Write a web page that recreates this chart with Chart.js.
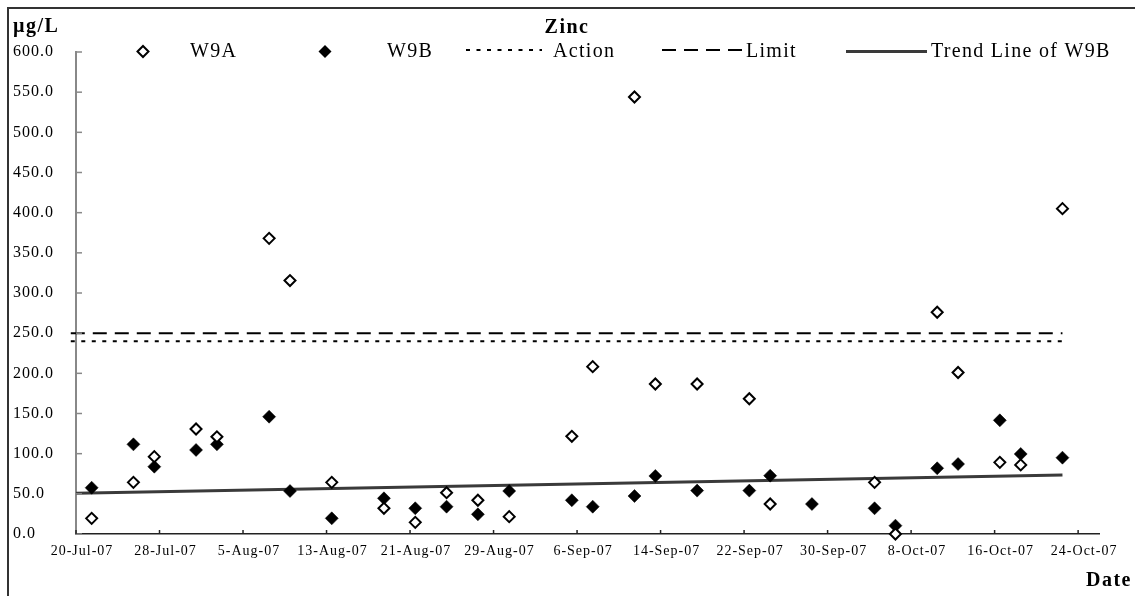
<!DOCTYPE html>
<html>
<head>
<meta charset="utf-8">
<title>Zinc</title>
<script src="https://cdn.jsdelivr.net/npm/chart.js@4.4.0/dist/chart.umd.min.js"></script>
<style>
    html, body { margin: 0; padding: 0; background: #fff; overflow: hidden; }
    #wrap { position: relative; width: 1135px; height: 596px; }
    #frame { position: absolute; left: 7px; top: 7px; width: 1140px; height: 600px; border: 2px solid #333; }
    canvas { position: absolute; left: 0; top: 0; }
</style>
</head>
<body>
<div id="wrap">
    <div id="frame"></div>
    <canvas id="zincChart" width="1135" height="596"></canvas>
</div>
<script>
// day 0 of the date axis
const startDate = '2007-07-20';

const sampleDates = [
    '2007-07-21', '2007-07-25', '2007-07-27', '2007-07-31', '2007-08-02', '2007-08-07', '2007-08-09',
    '2007-08-13', '2007-08-18', '2007-08-21', '2007-08-24', '2007-08-27', '2007-08-30', '2007-09-05',
    '2007-09-07', '2007-09-11', '2007-09-13', '2007-09-17', '2007-09-22', '2007-09-24', '2007-09-28',
    '2007-10-04', '2007-10-06', '2007-10-10', '2007-10-12', '2007-10-16', '2007-10-18', '2007-10-22'
];

const w9a = [
    19.5, 64.3, 96.3, 130.7, 121, 368, 315.5,
    64.3, 32, 14.5, 51.4, 42, 21.6, 121.6,
    208.3, 544, 186.7, 186.7, 168.4, 37.3, null,
    64.3, 0, 276, 201, 89.2, 86, 405
];

const w9b = [
    57.6, 111.6, 83.8, 104.6, 111.6, 146, 53.5,
    19.5, 44.4, 32, 34, 24.5, 53.5, 42,
    34, 47.3, 72.2, 54, 54, 72.6, 37.3,
    32, 10.4, 81.8, 87.1, 141.5, 99.6, 95
];

const actionLevel = 240;
const limitLevel = 250;
const guideDates = ['2007-07-19', '2007-10-22'];
const trendValues = [50.5, 73.4];

const tickDays = [0, 8, 16, 24, 32, 40, 48, 56, 64, 72, 80, 88, 96];
const tickLabels = [
    '20-Jul-07', '28-Jul-07', '5-Aug-07', '13-Aug-07', '21-Aug-07', '29-Aug-07', '6-Sep-07',
    '14-Sep-07', '22-Sep-07', '30-Sep-07', '8-Oct-07', '16-Oct-07', '24-Oct-07'
];

const serif = '"Liberation Serif", "Times New Roman", serif';

// points sit in the middle of their day, like the original date axis
function dayOf(iso) {
    return (Date.parse(iso) - Date.parse(startDate)) / 86400000 + 0.5;
}

function toPoints(dates, values) {
    return dates.map((d, i) => ({ x: dayOf(d), y: values[i] }));
}

function diamond(ctx, x, y, r) {
    ctx.beginPath();
    ctx.moveTo(x - r, y);
    ctx.lineTo(x, y - r);
    ctx.lineTo(x + r, y);
    ctx.lineTo(x, y + r);
    ctx.closePath();
}

function hLine(ctx, x1, x2, y, width, color, dash) {
    ctx.save();
    ctx.strokeStyle = color;
    ctx.lineWidth = width;
    ctx.setLineDash(dash);
    ctx.beginPath();
    ctx.moveTo(x1, y);
    ctx.lineTo(x2, y);
    ctx.stroke();
    ctx.restore();
}

const decorations = {
    id: 'decorations',
    beforeDraw(chart) {
        chart.ctx.letterSpacing = '1px';
    },
    afterDraw(chart) {
        const ctx = chart.ctx;
        const xs = chart.scales.x;
        const ys = chart.scales.y;
        ctx.save();

        // tick marks point into the plot
        ctx.lineWidth = 1.5;
        ctx.strokeStyle = '#888';
        ys.ticks.forEach(t => {
            const py = ys.getPixelForValue(t.value);
            ctx.beginPath();
            ctx.moveTo(xs.left, py);
            ctx.lineTo(xs.left + 6, py);
            ctx.stroke();
        });
        ctx.strokeStyle = '#222';
        xs.ticks.forEach(t => {
            const px = xs.getPixelForValue(t.value);
            ctx.beginPath();
            ctx.moveTo(px, ys.bottom);
            ctx.lineTo(px, ys.bottom - 4);
            ctx.stroke();
        });

        // headings
        ctx.fillStyle = '#000';
        ctx.textBaseline = 'alphabetic';
        ctx.letterSpacing = '1.5px';
        ctx.font = 'bold 20px ' + serif;
        ctx.textAlign = 'left';
        ctx.fillText('\u00B5g/L', 13, 32);
        ctx.fillText('Date', 1086, 586);
        ctx.textAlign = 'center';
        ctx.fillText('Zinc', 567, 33);

        // legend
        ctx.textAlign = 'left';
        ctx.letterSpacing = '1.3px';
        ctx.font = '20px ' + serif;

        diamond(ctx, 143, 51.5, 5.5);
        ctx.fillStyle = '#fff';
        ctx.fill();
        ctx.lineWidth = 2;
        ctx.strokeStyle = '#000';
        ctx.stroke();
        ctx.fillStyle = '#000';
        ctx.fillText('W9A', 190, 57);

        diamond(ctx, 325, 51.5, 6.5);
        ctx.fill();
        ctx.fillText('W9B', 387, 57);

        hLine(ctx, 466, 542, 50, 2, '#000', [4, 6.5]);
        ctx.fillText('Action', 553, 57);

        hLine(ctx, 662, 742, 50, 2, '#000', [14, 8]);
        ctx.fillText('Limit', 746, 57);

        hLine(ctx, 846, 927, 51.5, 3, '#3a3a3a', []);
        ctx.fillText('Trend Line of W9B', 931, 57);

        ctx.restore();
        ctx.letterSpacing = '0px';
    }
};

new Chart(document.getElementById('zincChart'), {
    type: 'scatter',
    data: {
        datasets: [
            {
                label: 'W9A',
                data: toPoints(sampleDates, w9a),
                pointStyle: 'rectRot',
                pointRadius: 5.5,
                backgroundColor: '#fff',
                borderColor: '#000',
                borderWidth: 2,
                clip: false
            },
            {
                label: 'W9B',
                data: toPoints(sampleDates, w9b),
                pointStyle: 'rectRot',
                pointRadius: 6.5,
                backgroundColor: '#000',
                borderColor: '#000',
                borderWidth: 0.5,
                clip: false
            },
            {
                label: 'Action',
                data: toPoints(guideDates, [actionLevel, actionLevel]),
                showLine: true,
                pointRadius: 0,
                borderColor: '#000',
                borderWidth: 2,
                borderDash: [4, 6.5],
                clip: 8
            },
            {
                label: 'Limit',
                data: toPoints(guideDates, [limitLevel, limitLevel]),
                showLine: true,
                pointRadius: 0,
                borderColor: '#000',
                borderWidth: 2,
                borderDash: [14, 8],
                clip: 8
            },
            {
                label: 'Trend Line of W9B',
                data: toPoints(guideDates, trendValues),
                showLine: true,
                pointRadius: 0,
                borderColor: '#3a3a3a',
                borderWidth: 3
            }
        ]
    },
    options: {
        responsive: false,
        animation: false,
        layout: {
            padding: { left: 13, top: 52, right: 36, bottom: 32 }
        },
        plugins: {
            legend: { display: false },
            title: { display: false },
            tooltip: { enabled: false }
        },
        scales: {
            x: {
                type: 'linear',
                min: 0,
                max: 98,
                afterBuildTicks: function (scale) {
                    scale.ticks = tickDays.map(v => ({ value: v }));
                },
                afterFit: function (scale) {
                    scale.height = 30;
                },
                grid: { display: false },
                border: { display: true, color: '#222', width: 1.5 },
                ticks: {
                    autoSkip: false,
                    maxRotation: 0,
                    minRotation: 0,
                    labelOffset: 6,
                    padding: 1,
                    color: '#000',
                    font: { family: serif, size: 14 },
                    callback: function (value, index) {
                        return tickLabels[index];
                    }
                }
            },
            y: {
                min: 0,
                max: 600,
                afterFit: function (scale) {
                    scale.width = 63;
                },
                grid: { display: false },
                border: { display: true, color: '#888', width: 2 },
                ticks: {
                    stepSize: 50,
                    crossAlign: 'far',
                    color: '#000',
                    font: { family: serif, size: 16 },
                    callback: function (value) {
                        return value.toFixed(1);
                    }
                }
            }
        }
    },
    plugins: [decorations]
});
</script>
</body>
</html>
